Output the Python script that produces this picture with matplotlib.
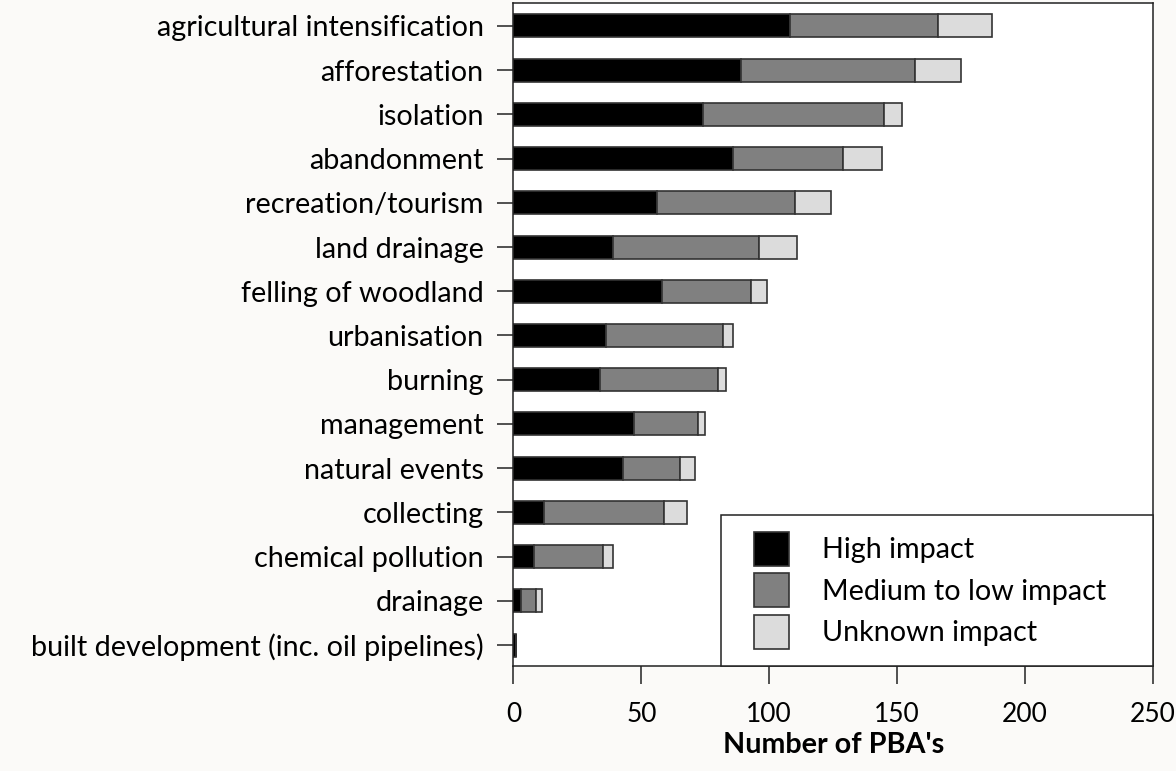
import numpy as np
import matplotlib
matplotlib.use("Agg")
import matplotlib.pyplot as plt
from matplotlib.patches import Rectangle, Patch

# threats to PBAs
threats = ["agricultural intensification", "afforestation", "isolation",
           "abandonment", "recreation/tourism", "land drainage",
           "felling of woodland", "urbanisation", "burning", "management",
           "natural events", "collecting", "chemical pollution", "drainage",
           "built development (inc. oil pipelines)"]
high = [108, 89, 74, 86, 56, 39, 58, 36, 34, 47, 43, 12, 8, 3, 1]
medium_low = [58, 68, 71, 43, 54, 57, 35, 46, 46, 25, 22, 47, 27, 6, 0]
unknown = [21, 18, 7, 15, 14, 15, 6, 4, 3, 3, 6, 9, 4, 2, 0]
xticks = [0, 50, 100, 150, 200, 250]

plt.rcParams['font.family'] = ['Lato', 'DejaVu Sans']

fig = plt.figure(figsize=(11.76, 7.71), dpi=100)
fig.patch.set_facecolor('#fbfaf8')
ax = fig.add_axes([0.4366, 0.1368, 0.5438, 0.8587])
ax.set_facecolor('white')

y = np.arange(len(threats))
high = np.array(high)
medium_low = np.array(medium_low)
unknown = np.array(unknown)

edge = dict(edgecolor='#333333', linewidth=1.2, height=0.52)
ax.barh(y, high, color='black', label='High impact', **edge)
ax.barh(y, medium_low, left=high, color='#808080', label='Medium to low impact', **edge)
ax.barh(y, unknown, left=high + medium_low, color='#dcdcdc', label='Unknown impact', **edge)

ax.set_ylim(14.464, -0.509)
ax.set_xlim(0, 250)
ax.set_yticks(y)
ax.set_yticklabels(threats, fontsize=20.7)
ax.set_xticks(xticks)
ax.set_xticklabels([str(t) for t in xticks], fontsize=19)
ax.tick_params(axis='both', width=1.1, color='#222222')
ax.tick_params(axis='y', length=11.5, pad=10)
ax.tick_params(axis='x', length=13, pad=13)
for s in ax.spines.values():
    s.set_linewidth(1.1)
    s.set_color('#222222')
ax.set_xlabel("Number of PBA's", fontsize=20.7, fontweight='bold', labelpad=4)

# legend box in the lower right corner
ax.add_patch(Rectangle((0.324, 0.0), 0.676, 0.227, transform=ax.transAxes,
                       facecolor='white', edgecolor='#222222', linewidth=1.1,
                       zorder=3, clip_on=False))
handles = [Patch(facecolor='black', edgecolor='#333333', linewidth=1.2),
           Patch(facecolor='#808080', edgecolor='#333333', linewidth=1.2),
           Patch(facecolor='#dcdcdc', edgecolor='#333333', linewidth=1.2)]
leg = ax.legend(handles, ['High impact', 'Medium to low impact', 'Unknown impact'],
                loc='upper left', bbox_to_anchor=(0.376, 0.2017), frameon=False,
                borderpad=0, borderaxespad=0, fontsize=20.7, handlelength=1.22,
                handleheight=1.44, labelspacing=0.26, handletextpad=1.15)
leg.set_zorder(4)

plt.savefig("out.png", dpi=100, facecolor=fig.get_facecolor())
